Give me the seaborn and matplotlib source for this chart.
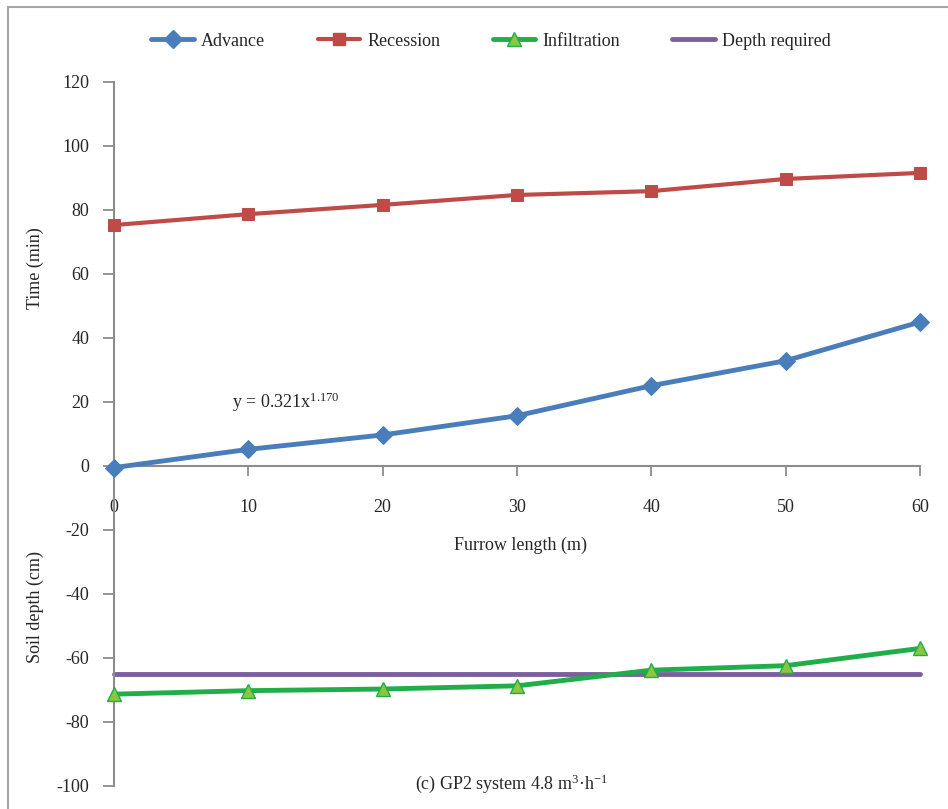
import matplotlib
matplotlib.use("Agg")
import matplotlib.pyplot as plt
from matplotlib.patches import Rectangle
from matplotlib.lines import Line2D
import seaborn as sns
import pandas as pd

# Furrow length stations (m)
length = [0, 10, 20, 30, 40, 50, 60]
# Advance and recession times (min)
advance = [-0.5, 5.2, 9.7, 15.7, 25.1, 32.9, 45.0]
recession = [75.3, 78.7, 81.6, 84.7, 85.9, 89.7, 91.6]
# Infiltrated depth below surface (cm, negative downward)
infiltration = [-71.3, -70.2, -69.7, -68.7, -63.8, -62.4, -57.0]
depth_required = [-65, -65, -65, -65, -65, -65, -65]

y_ticks = [-100, -80, -60, -40, -20, 0, 20, 40, 60, 80, 100, 120]
x_ticks = [0, 10, 20, 30, 40, 50, 60]

sns.set_style("white")
plt.rcParams["font.family"] = ["Liberation Serif", "DejaVu Serif"]
plt.rcParams["mathtext.fontset"] = "custom"
plt.rcParams["mathtext.rm"] = "Liberation Serif"
plt.rcParams["mathtext.it"] = "Liberation Serif:italic"
plt.rcParams["axes.unicode_minus"] = False

df = pd.DataFrame({
    "length": length,
    "Advance": advance,
    "Recession": recession,
    "Infiltration": infiltration,
    "Depth required": depth_required,
})

W, H = 948, 809
fig = plt.figure(figsize=(W / 100, H / 100), dpi=100)
ax = fig.add_axes([114 / W, 1 - 786 / H, 806 / W, (786 - 82) / H])

c_adv = "#4a7ebb"
c_rec = "#be4b48"
c_inf = "#1fae4a"
c_inf_mk = "#8cc63f"
c_dep = "#7d5fa0"

sns.lineplot(data=df, x="length", y="Depth required", ax=ax, color=c_dep,
             lw=3.5, zorder=2, clip_on=False)
sns.lineplot(data=df, x="length", y="Infiltration", ax=ax, color=c_inf,
             lw=3.5, marker="^", markersize=10, markerfacecolor=c_inf_mk,
             markeredgecolor=c_inf, markeredgewidth=1, zorder=3,
             clip_on=False)
sns.lineplot(data=df, x="length", y="Recession", ax=ax, color=c_rec,
             lw=3.0, marker="s", markersize=9, markerfacecolor=c_rec,
             markeredgecolor=c_rec, zorder=3, clip_on=False)
sns.lineplot(data=df, x="length", y="Advance", ax=ax, color=c_adv,
             lw=3.5, marker="D", markersize=9, markerfacecolor=c_adv,
             markeredgecolor=c_adv, zorder=3, clip_on=False)

ax.set_xlim(0, 60)
ax.set_ylim(-100, 120)
ax.set_xticks(x_ticks)
ax.set_yticks(y_ticks)
ax.set_xlabel("")
ax.set_ylabel("")

spine_c = "#8c8c8c"
for s in ["top", "right"]:
    ax.spines[s].set_visible(False)
ax.spines["left"].set_color(spine_c)
ax.spines["left"].set_linewidth(1.5)
ax.spines["bottom"].set_color(spine_c)
ax.spines["bottom"].set_linewidth(1.5)
ax.spines["bottom"].set_position(("data", 0))
ax.tick_params(axis="y", direction="out", length=8, width=1.3, color=spine_c,
               pad=10, labelsize=13, left=True)
ax.tick_params(axis="x", direction="out", length=7, width=1.3, color=spine_c,
               pad=17, labelsize=13, bottom=True)

ax.text(8.8, 20, r"y = 0.321x$^{1.170}$", fontsize=13, ha="left",
        va="center")

fig.text(35 / W, 1 - 268 / H, "Time (min)", rotation=90, ha="center",
         va="center", fontsize=13)
fig.text(35 / W, 1 - 607 / H, "Soil depth (cm)", rotation=90, ha="center",
         va="center", fontsize=13)
fig.text(520 / W, 1 - 545 / H, "Furrow length (m)", ha="center",
         va="center", fontsize=13)
fig.text(512 / W, 1 - 784 / H, r"(c) GP2 system 4.8 m$^{3}$·h$^{-1}$",
         ha="center", va="center", fontsize=13)

# outer frame of the panel
fig.patches.append(Rectangle((8 / W, -0.05), 1.2, 1 - 7 / H + 0.05,
                             transform=fig.transFigure, fill=False,
                             edgecolor="#a6a6a6", lw=1.5))

handles = [
    Line2D([], [], color=c_adv, lw=3.5, marker="D", markersize=9),
    Line2D([], [], color=c_rec, lw=3.0, marker="s", markersize=9),
    Line2D([], [], color=c_inf, lw=3.5, marker="^", markersize=10,
           markerfacecolor=c_inf_mk, markeredgecolor=c_inf),
    Line2D([], [], color=c_dep, lw=3.5),
]
labels = ["Advance", "Recession", "Infiltration", "Depth required"]
fig.legend(handles, labels, loc="center", ncol=4, frameon=False,
           bbox_to_anchor=(491 / W, 1 - 41 / H), fontsize=13,
           handlelength=2.35, handletextpad=0.4, columnspacing=2.9)

fig.savefig("out.png", dpi=100)
